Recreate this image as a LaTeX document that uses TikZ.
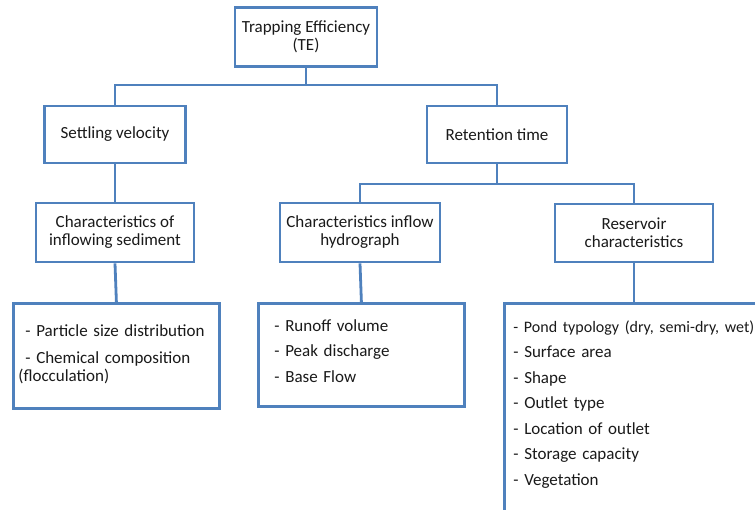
\documentclass[tikz,border=0pt]{standalone}
\usepackage{fontspec}
\setmainfont{Carlito}
\usepackage{xcolor}
\usepackage{tikz}
\usetikzlibrary{calc}
\definecolor{steel}{HTML}{4F81BD}
\definecolor{ink}{HTML}{1A1A1A}
\tikzset{
  box/.style={draw=steel, line width=2.8pt, fill=white, align=center, inner sep=2pt, text=ink},
  lst/.style={draw=steel, line width=2.8pt, fill=white, anchor=north west, align=left,
    inner ysep=14pt, text height=14pt, text=ink},
  wire/.style={draw=steel, line width=2.8pt},
  every node/.style={font=\fontsize{17}{18}\selectfont}
}
\newcommand{\gap}{\\[7.5pt]}

\begin{document}
\begin{tikzpicture}[x=1pt, y=-1pt]
  \clip (0,0) rectangle (755,509);
  \fill[white] (0,0) rectangle (755,509);

  % levels
  \node[box, minimum width=142, minimum height=59] (te) at (306,37) {Trapping Efficiency\\(TE)};
  \node[box, minimum width=141, minimum height=57] (settle) at (115,134.5) {Settling velocity};
  \node[box, minimum width=140, minimum height=57] (retain) at (497,134.5) {Retention time};
  \node[box, minimum width=158, minimum height=59] (sediment) at (115,232.5) {Characteristics of\\inflowing sediment};
  \node[box, minimum width=160, minimum height=59] (hydro) at (360,232.5) {Characteristics inflow\\hydrograph};
  \node[box, minimum width=158, minimum height=58] (reschar) at (634,233) {Reservoir\\characteristics};

  % lists
  \node[lst, inner xsep=5pt, text width=196pt, text height=19pt, text depth=58pt] (sedlist) at (12,302)
    {\hspace*{7pt}- Particle size distribution\\[9pt]
     \hspace*{7pt}- Chemical composition\\(flocculation)};
  \node[lst, inner xsep=16pt, text width=174pt, text depth=61pt] (hydlist) at (257,302)
    {- Runoff volume\gap - Peak discharge\gap - Base Flow};
  \node[lst, inner xsep=9pt, text width=300pt, text height=15pt, text depth=250pt] (reslist) at (503,302)
    {{\fontsize{16}{18}\selectfont - Pond typology (dry, semi-dry, wet)}\gap - Surface area\gap - Shape\gap
     - Outlet type\gap - Location of outlet\gap - Storage capacity\gap - Vegetation};

  % connectors
  \coordinate (bus1) at (306,85);
  \coordinate (bus2) at (497,184);
  \draw[wire] (te.south) -- (bus1);
  \draw[wire] (settle.north) |- (bus1) -| (retain.north);
  \draw[wire] (settle.south) -- (sediment.north);
  \draw[wire] (sediment.south) -- (sedlist.north);
  \draw[wire] (retain.south) -- (bus2);
  \draw[wire] (hydro.north) |- (bus2) -| (reschar.north);
  \draw[wire] (hydro.south) -- (hydlist.north);
  \draw[wire] (reschar.south) -- (reschar.south |- reslist.north);
\end{tikzpicture}
\end{document}
